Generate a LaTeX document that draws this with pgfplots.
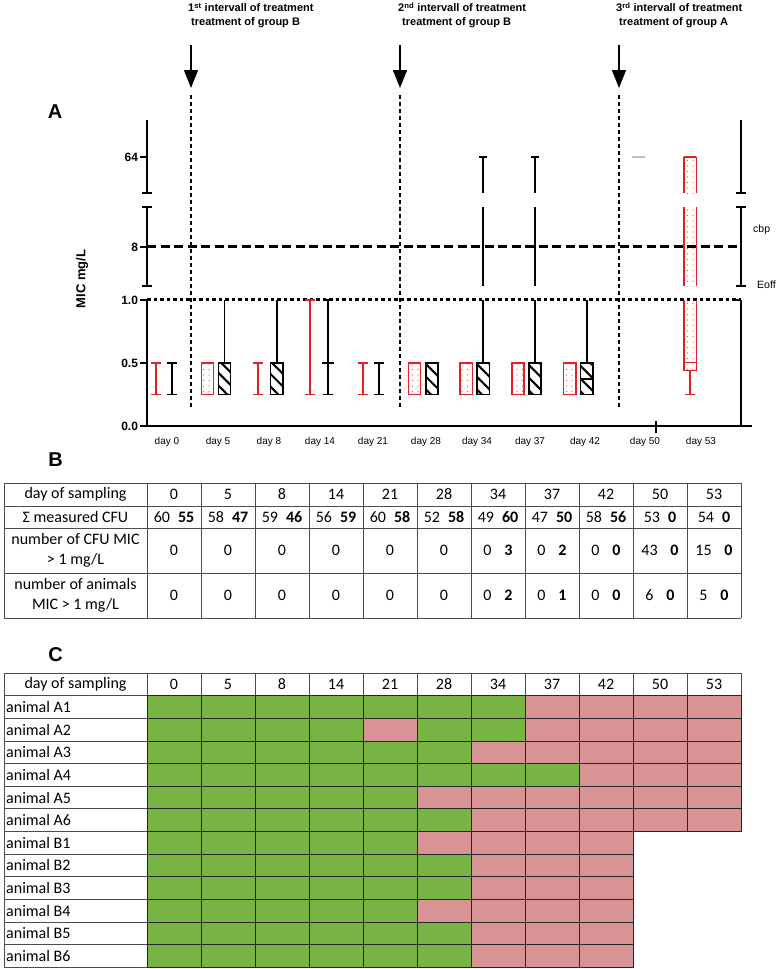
\documentclass[border=0pt]{standalone}
\usepackage{fontspec}
\setmainfont{Liberation Sans}
\newfontfamily\calib{Carlito}
\usepackage{pgfplots}
\pgfplotsset{compat=1.18}
\usetikzlibrary{arrows.meta,patterns.meta}
\definecolor{mred}{RGB}{226,32,38}
\definecolor{cgreen}{RGB}{120,180,68}
\definecolor{cpink}{RGB}{216,148,148}
\pgfdeclareplotmark{cell}{\pgfpathrectangle{\pgfpoint{-27pt}{-11.315pt}}{\pgfpoint{54pt}{22.63pt}}\pgfusepathqfillstroke}
\tikzset{
  rline/.style={draw=mred, line width=1.5pt},
  bline/.style={draw=black, line width=1.5pt},
  dotfill/.style={pattern={Dots[radius=0.7pt,distance=5.5pt]}, pattern color=mred!80},
  hatchfill/.style={pattern={Lines[angle=-45,distance=9pt,line width=2.1pt]}, pattern color=black},
  wr/.style={mred, line width=1.7pt},
  wb/.style={black, line width=1.7pt},
}
% helpers: all elements are drawn with \addplot through the axis
\newcommand\hseg[4]{\pgfmathsetmacro\xl{#2-#4}\pgfmathsetmacro\xr{#2+#4}\addplot[#1] coordinates {(\xl,#3) (\xr,#3)};}
\newcommand\vseg[4]{\addplot[#1] coordinates {(#2,#3) (#2,#4)};}
\newcommand\ibeam[4]{\vseg{#1}{#2}{#3}{#4}\hseg{#1}{#2}{#3}{0.095}\hseg{#1}{#2}{#4}{0.095}}
\newcommand\rbox[3]{\pgfmathsetmacro\xl{#1-0.118}\pgfmathsetmacro\xr{#1+0.118}\addplot[rline, dotfill] coordinates {(\xl,#2) (\xr,#2) (\xr,#3) (\xl,#3)} -- cycle;}
\newcommand\bbox[3]{\pgfmathsetmacro\xl{#1-0.118}\pgfmathsetmacro\xr{#1+0.118}\addplot[bline, hatchfill] coordinates {(\xl,#2) (\xr,#2) (\xr,#3) (\xl,#3)} -- cycle;}
\newcommand\rfill[3]{\pgfmathsetmacro\xl{#1-0.118}\pgfmathsetmacro\xr{#1+0.118}\addplot[draw=none, dotfill] coordinates {(\xl,#2) (\xr,#2) (\xr,#3) (\xl,#3)} -- cycle;
  \addplot[rline] coordinates {(\xl,#2) (\xl,#3)};\addplot[rline] coordinates {(\xr,#2) (\xr,#3)};}

\begin{document}
\begin{tikzpicture}
\path[use as bounding box] (0pt,0pt) rectangle (778pt,-969pt);

\begin{scope}[x=1pt,y=-1pt]
% ================= PANEL A (annotations) =================
\node[font=\bfseries\fontsize{20}{20}\selectfont] at (55,112) {A};
\node[rotate=90, font=\bfseries\fontsize{13}{13}\selectfont] at (82,279) {MIC mg/L};

\node[anchor=base west, inner sep=0, font=\bfseries\fontsize{11}{11}\selectfont] at (188,12) {1\textsuperscript{st} intervall of treatment};
\node[anchor=base west, inner sep=0, font=\bfseries\fontsize{11}{11}\selectfont] at (191,25) {treatment of group B};
\node[anchor=base west, inner sep=0, font=\bfseries\fontsize{11}{11}\selectfont] at (398,12) {2\textsuperscript{nd} intervall of treatment};
\node[anchor=base west, inner sep=0, font=\bfseries\fontsize{11}{11}\selectfont] at (402,25) {treatment of group B};
\node[anchor=base west, inner sep=0, font=\bfseries\fontsize{11}{11}\selectfont] at (616,12) {3\textsuperscript{rd} intervall of treatment};
\node[anchor=base west, inner sep=0, font=\bfseries\fontsize{11}{11}\selectfont] at (619,25) {treatment of group A};

\foreach \xx in {191,400,619}{
  \draw[line width=1.4pt, -{Triangle[length=18pt,width=14pt]}] (\xx,45) -- (\xx,88);
  \draw[line width=1.2pt, dash pattern=on 4pt off 3pt] (\xx,95) -- (\xx,407);
}

% broken axes
\draw[line width=1.6pt] (147,426) -- (752,426);
\foreach \ax in {147,741}{
  \draw[line width=1.6pt] (\ax,426) -- (\ax,300);
  \draw[line width=1.6pt] (\ax,286) -- (\ax,207);
  \draw[line width=1.6pt] (\ax-5,286) -- (\ax+5,286);
  \draw[line width=1.6pt] (\ax-5,207) -- (\ax+5,207);
  \draw[line width=1.6pt] (\ax,193) -- (\ax,120);
  \draw[line width=1.6pt] (\ax-5,193) -- (\ax+5,193);
}
\draw[line width=1.6pt] (734,300) -- (741,300);
\draw[line width=1.2pt] (656,421) -- (656,433);

\node[anchor=west, inner sep=0, font=\fontsize{10.5}{10.5}\selectfont] at (753,230) {cbp};
\node[anchor=west, inner sep=0, font=\fontsize{10.5}{10.5}\selectfont] at (757,285) {Eoff};

% ================= PANEL B =================
\node[font=\bfseries\fontsize{20}{20}\selectfont] at (55.5,460) {B};
\begin{scope}[black!70, line width=0.9pt]
\foreach \yy in {483,506,528,573,618} \draw (4,\yy) -- (741,\yy);
\foreach \xx in {4,147,201,255,309,363,417,471,525,579,633,687,741} \draw (\xx,483) -- (\xx,618);
\end{scope}
\begin{scope}[font=\calib\fontsize{16}{20}\selectfont]
\node at (75.5,494.5) {day of sampling};
\node at (75.5,517) {Σ measured CFU};
\node[align=center] at (75.5,550.5) {number of CFU MIC\\> 1 mg/L};
\node[align=center] at (75.5,595.5) {number of animals\\MIC > 1 mg/L};
\foreach \v [count=\k from 0] in {0,5,8,14,21,28,34,37,42,50,53}
  \node at ({174+54*\k},494.5) {\v};
\foreach \a/\b [count=\k from 0] in {60/55,58/47,59/46,56/59,60/58,52/58,49/60,47/50,58/56,53/0,54/0}
  \node at ({174+54*\k},517) {\a\hspace{0.5em}\textbf{\b}};
\foreach \k in {0,...,5} {\node at ({174+54*\k},550.5) {0}; \node at ({174+54*\k},595.5) {0};}
\foreach \a/\b [count=\k from 6] in {0/3,0/2,0/0,43/0,15/0}
  \node at ({174+54*\k},550.5) {\a\hspace{0.8em}\textbf{\b}};
\foreach \a/\b [count=\k from 6] in {0/2,0/1,0/0,6/0,5/0}
  \node at ({174+54*\k},595.5) {\a\hspace{0.8em}\textbf{\b}};
\end{scope}

% ================= PANEL C (table frame) =================
\node[font=\bfseries\fontsize{20}{20}\selectfont] at (55.5,655) {C};
\begin{scope}[black!70, line width=0.9pt]
\draw (4,673) -- (741,673);
\draw (4,695.7) -- (741,695.7);
\foreach \xx in {4,147,201,255,309,363,417,471,525,579,633,687,741} \draw (\xx,673) -- (\xx,695.7);
\foreach \r in {1,...,12} \draw (4,{695.7+22.63*\r}) -- (147,{695.7+22.63*\r});
\draw (4,673) -- (4,967.3);
\draw (147,673) -- (147,967.3);
\end{scope}
\begin{scope}[font=\calib\fontsize{16}{20}\selectfont]
\node at (75.5,684.5) {day of sampling};
\foreach \v [count=\k from 0] in {0,5,8,14,21,28,34,37,42,50,53}
  \node at ({174+54*\k},684.5) {\v};
\foreach \lab [count=\r] in {A1,A2,A3,A4,A5,A6,B1,B2,B3,B4,B5,B6}
  \node[anchor=west, inner sep=0] at (6,{695.7+22.63*(\r-0.5)}) {animal \lab};
\end{scope}
\end{scope}

% ================= PANEL A (data) =================
\begin{axis}[
  at={(147pt,-426pt)}, anchor=south west, scale only axis,
  width=594pt, height=331.4pt,
  xmin=-0.338, xmax=11.14, ymin=0, ymax=2.63,
  axis lines*=left, axis line style={draw=none}, clip=false,
  xtick={0.048,1.034,2.019,3.005,4.029,5.053,6.039,7.063,8.126,9.285,10.367},
  xticklabels={day 0,day 5,day 8,day 14,day 21,day 28,day 34,day 37,day 42,day 50,day 53},
  xtick style={draw=none},
  xticklabel style={font=\fontsize{10}{10}\selectfont, yshift=-1pt},
  ytick={0,0.5,1,1.421,2.135},
  yticklabels={0.0,0.5,1.0,8,64},
  yticklabel style={font=\bfseries\fontsize{12}{12}\selectfont, xshift=1.5pt},
  ytick style={black, line width=1.5pt},
  tick align=outside, major tick length=7pt,
]
% reference lines: cbp (8 mg/L) and Eoff (1 mg/L)
\addplot[black, line width=3pt, dash pattern=on 9pt off 4.5pt] coordinates {(-0.338,1.421) (11.14,1.421)};
\addplot[black, line width=3pt, dash pattern=on 3.5pt off 3pt] coordinates {(-0.338,1) (11.14,1)};

% day 0
\ibeam{wr}{-0.16}{0.25}{0.5}
\ibeam{wb}{0.15}{0.25}{0.5}
% day 5
\rbox{0.83}{0.25}{0.5}
\vseg{wb}{1.16}{0.5}{1.0}
\bbox{1.16}{0.25}{0.5}
% day 8
\ibeam{wr}{1.81}{0.25}{0.5}
\vseg{wb}{2.17}{0.5}{1.0}
\bbox{2.17}{0.25}{0.5}
% day 14
\ibeam{wr}{2.81}{0.25}{1.0}
\ibeam{wb}{3.16}{0.25}{1.0}
\hseg{wb}{3.16}{0.5}{0.125}
% day 21
\ibeam{wr}{3.84}{0.25}{0.5}
\ibeam{wb}{4.15}{0.25}{0.5}
% day 28
\rbox{4.83}{0.25}{0.5}
\bbox{5.17}{0.25}{0.5}
% day 34
\rbox{5.83}{0.25}{0.5}
\vseg{wb}{6.16}{0.5}{1.0}
\vseg{wb}{6.16}{1.111}{1.738}
\vseg{wb}{6.16}{1.849}{2.135}
\hseg{wb}{6.16}{2.135}{0.075}
\bbox{6.16}{0.25}{0.5}
% day 37
\rbox{6.83}{0.25}{0.5}
\vseg{wb}{7.16}{0.5}{1.0}
\vseg{wb}{7.16}{1.111}{1.738}
\vseg{wb}{7.16}{1.849}{2.135}
\hseg{wb}{7.16}{2.135}{0.075}
\bbox{7.16}{0.25}{0.5}
% day 42
\rbox{7.83}{0.25}{0.5}
\vseg{wb}{8.16}{0.5}{1.0}
\bbox{8.16}{0.25}{0.5}
\hseg{wb}{8.16}{0.375}{0.118}
% day 50
\hseg{black!25, line width=1.5pt}{9.16}{2.135}{0.118}
% day 53 (box broken by the axis gaps)
\vseg{wr}{10.16}{0.25}{0.439}
\hseg{wr}{10.16}{0.25}{0.095}
\rfill{10.16}{0.439}{1.0}
\rfill{10.16}{1.111}{1.738}
\rfill{10.16}{1.849}{2.135}
\hseg{rline}{10.16}{0.439}{0.118}
\hseg{rline}{10.16}{0.505}{0.118}
\hseg{rline}{10.16}{2.135}{0.118}
\end{axis}

% ================= PANEL C (cells) =================
\begin{axis}[
  at={(147pt,-967.3pt)}, anchor=south west, scale only axis,
  width=594pt, height=271.56pt,
  xmin=-0.5, xmax=10.5, ymin=0.5, ymax=12.5, y dir=reverse,
  hide axis, clip=false,
]
% green = MIC <= 1 mg/L, pink = MIC > 1 mg/L (x = day index, y = animal row)
\addplot[only marks, mark=cell, mark options={draw=black!85, line width=1pt, fill=cgreen}] table {
x y
0 1
1 1
2 1
3 1
4 1
5 1
6 1
0 2
1 2
2 2
3 2
5 2
6 2
0 3
1 3
2 3
3 3
4 3
5 3
0 4
1 4
2 4
3 4
4 4
5 4
6 4
7 4
0 5
1 5
2 5
3 5
4 5
0 6
1 6
2 6
3 6
4 6
5 6
0 7
1 7
2 7
3 7
4 7
0 8
1 8
2 8
3 8
4 8
5 8
0 9
1 9
2 9
3 9
4 9
5 9
0 10
1 10
2 10
3 10
4 10
0 11
1 11
2 11
3 11
4 11
5 11
0 12
1 12
2 12
3 12
4 12
5 12
};
\addplot[only marks, mark=cell, mark options={draw=black!85, line width=1pt, fill=cpink}] table {
x y
7 1
8 1
9 1
10 1
4 2
7 2
8 2
9 2
10 2
6 3
7 3
8 3
9 3
10 3
8 4
9 4
10 4
5 5
6 5
7 5
8 5
9 5
10 5
6 6
7 6
8 6
9 6
10 6
5 7
6 7
7 7
8 7
6 8
7 8
8 8
6 9
7 9
8 9
5 10
6 10
7 10
8 10
6 11
7 11
8 11
6 12
7 12
8 12
};
\end{axis}
\end{tikzpicture}
\end{document}
